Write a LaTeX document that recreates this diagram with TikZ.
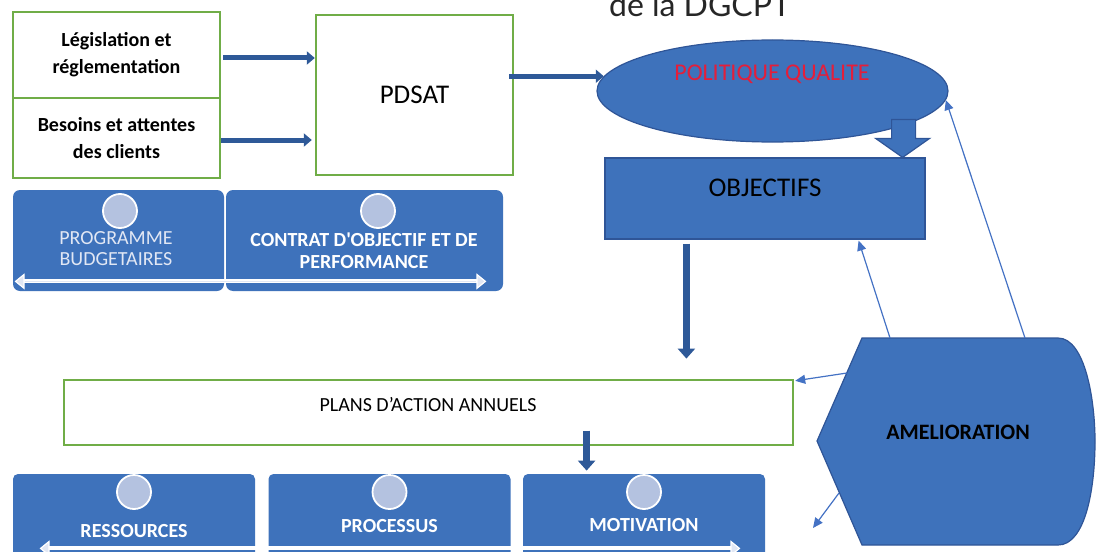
\documentclass[tikz,border=0pt]{standalone}
\usepackage{fontspec}
\setmainfont{Carlito}
\newfontfamily\calib{Carlito}
\newfontfamily\latofont{Lato}
\usetikzlibrary{arrows.meta,calc,shapes.geometric}
\definecolor{qblue}{RGB}{62,114,187}
\definecolor{qedge}{RGB}{47,85,151}
\definecolor{qgreen}{RGB}{112,173,71}
\definecolor{qred}{RGB}{228,30,58}
\definecolor{qdot}{RGB}{180,194,224}
\definecolor{qarrow}{RGB}{46,89,152}
\definecolor{qthin}{RGB}{68,114,196}
\definecolor{qpale}{RGB}{225,231,244}
\begin{document}
\begin{tikzpicture}[x=0.5pt, y=-0.5pt]
\useasboundingbox (0,0) rectangle (1096,551);
\clip (0,0) rectangle (1096,551);

\tikzset{greenbox/.style={draw=qgreen, line width=1.2pt, fill=white, inner sep=0pt, align=center}}
\tikzset{bluebox/.style={draw=qedge, line width=0.6pt, fill=qblue, inner sep=0pt}}
\tikzset{bandbox/.style={fill=qblue, rounded corners=3.5pt, inner sep=0pt, minimum height=50.5pt}}
\tikzset{tilebox/.style={fill=qblue, rounded corners=2.5pt, inner sep=0pt, minimum width=121pt, minimum height=46pt}}
\tikzset{knob/.style={circle, fill=qdot, draw=white, line width=0.9pt, minimum size=17pt, inner sep=0pt}}
\tikzset{whitetxt/.style={text=white, font=\calib\bfseries\fontsize{10}{11}\selectfont, align=center}}
\tikzset{fatline/.style={draw=qarrow, line width=2.5pt, -{Triangle[length=4pt,width=6.5pt]}}}
\tikzset{fatdown/.style={draw=qarrow, line width=3.6pt, -{Triangle[length=5pt,width=8.5pt]}}}
\tikzset{thinarrow/.style={draw=qthin, line width=0.6pt, -{Triangle[length=5pt,width=4.5pt]}}}
\tikzset{bandline/.style={draw=white, line width=2pt, {Triangle[length=5pt,width=8pt,fill=qpale,line width=0.6pt]}-{Triangle[length=5pt,width=8pt,fill=qpale,line width=0.6pt]}}}

\node[anchor=base, text=black!85, font=\latofont\fontsize{16}{19}\selectfont, inner sep=0pt] (dgcpt) at (700,17) {de la DGCPT};

\node[greenbox, minimum width=103.5pt, minimum height=43pt, font=\calib\bfseries\fontsize{10}{13.5}\selectfont] (legis) at (116.5,55) {Législation et\\réglementation};
\node[greenbox, minimum width=103.5pt, minimum height=40pt, font=\calib\bfseries\fontsize{10}{13.5}\selectfont] (besoins) at (116.5,138) {Besoins et attentes\\des clients};
\node[greenbox, minimum width=98.5pt, minimum height=80pt, font=\calib\fontsize{13.5}{16}\selectfont] (pdsat) at (414.5,95) {PDSAT};

\node[bandbox, minimum width=105.5pt] (progband) at (118.5,240.5) {};
\node[bandbox, minimum width=138.5pt] (contband) at (364.5,240.5) {};
\node[knob] (progknob) at (120,211) {};
\node[knob] (contknob) at (378,211) {};
\node[text=qpale, font=\calib\fontsize{10}{10.5}\selectfont, align=center] (progtxt) at (116,249) {PROGRAMME\\BUDGETAIRES};
\node[whitetxt] (conttxt) at (364,251) {CONTRAT D'OBJECTIF ET DE\\PERFORMANCE};
\draw[bandline] ($(progband.south west)+(2,-10)$) -- ($(contband.south east)+(-17,-10)$);
\draw[qpale, line width=0.7pt] ($(progband.south west)+(12,-10)$) -- ($(contband.south east)+(-27,-10)$);

\node[ellipse, bluebox, minimum width=175.5pt, minimum height=51pt] (polq) at (772.5,91) {};
\node[text=qred, font=\calib\fontsize{12}{14}\selectfont] (polqtxt) at (772,74) {POLITIQUE QUALITE};
\node[bluebox, minimum width=160pt, minimum height=40.5pt] (obj) at (765,198.5) {};
\node[font=\calib\fontsize{13.5}{16}\selectfont] (objtxt) at (765,188) {OBJECTIFS};
\filldraw[fill=qblue, draw=qedge, line width=0.6pt, shift={(obj.north east)}] (-34,-38) -- (-10,-38) -- (-10,-19) -- (4,-19) -- (-23,0) -- (-50,-19) -- (-34,-19) -- cycle;

\node[greenbox, minimum width=364.5pt, minimum height=32.5pt] (plans) at (428.5,412.5) {};
\node[font=\calib\fontsize{10}{12}\selectfont] (planstxt) at (428,405) {PLANS D’ACTION ANNUELS};

\node[tilebox] (res) at (134,520) {};
\node[tilebox] (proc) at (389.5,520) {};
\node[tilebox] (mot) at (644,520) {};
\node[knob] (resknob) at (134,492) {};
\node[knob] (procknob) at (389.5,492) {};
\node[knob] (motknob) at (644,492) {};
\node[whitetxt] (restxt) at (134,531) {RESSOURCES};
\node[whitetxt] (proctxt) at (389.5,526) {PROCESSUS};
\node[whitetxt] (mottxt) at (644,525) {MOTIVATION};
\draw[bandline] ($(res.south west)+(27,-18)$) -- ($(mot.south east)+(-25,-18)$);

\filldraw[fill=qblue, draw=qedge, line width=0.6pt] (817,441) -- (862,338) -- (1058,338) .. controls (1085,338) and (1095,400) .. (1095,441) .. controls (1095,490) and (1085,545) .. (1058,545) -- (862,545) -- cycle;
\node[font=\calib\bfseries\fontsize{11}{13}\selectfont] (amelio) at (958,432) {AMELIORATION};
\coordinate (am1) at (890,338);
\coordinate (am2) at (1025,338);
\coordinate (am3) at (847,373);
\coordinate (am4) at (839,493);
\coordinate (amfree) at (813,528);

\path ($(legis.east)+(2,3)$) edge [fatline] ($(legis.east -| pdsat.west)+(0,3)$);
\path ($(besoins.east)+(0,2)$) edge [fatline] ($(besoins.east -| pdsat.west)+(-3,2)$);
\path ($(pdsat.east |- polq.175)+(-5,0)$) edge [fatline] (polq.175);
\path ($(obj.south west)+(82,4)$) edge [fatdown] ($(obj.south west)+(82,119)$);
\path ($(mot.north west)+(64,-43)$) edge [fatdown] ($(mot.north west)+(64,-3)$);

\path (am1) edge [thinarrow] ($(obj.south east)+(-67,1)$);
\path (am2) edge [thinarrow] (polq.-3);
\path (am3) edge [thinarrow] ($(plans.north east)+(1,2)$);
\path (am4) edge [thinarrow] (amfree);
\end{tikzpicture}
\end{document}
